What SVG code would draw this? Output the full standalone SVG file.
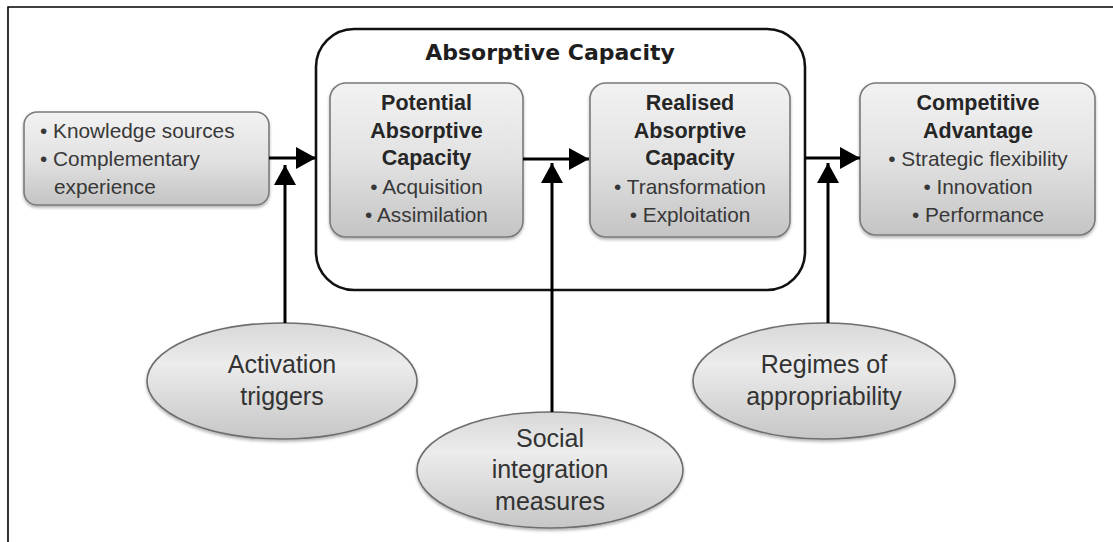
<svg xmlns="http://www.w3.org/2000/svg" width="1113" height="542" viewBox="0 0 1113 542">
  <defs>
    <linearGradient id="boxFill" x1="0" y1="0" x2="0" y2="1">
      <stop offset="0" stop-color="#f2f2f2"/>
      <stop offset="0.5" stop-color="#e2e2e2"/>
      <stop offset="1" stop-color="#c4c4c4"/>
    </linearGradient>
    <linearGradient id="ovalFill" x1="0" y1="0" x2="0" y2="1">
      <stop offset="0" stop-color="#d8d8d8"/>
      <stop offset="0.35" stop-color="#ececec"/>
      <stop offset="1" stop-color="#c6c6c6"/>
    </linearGradient>
    <filter id="shadow" x="-10%" y="-10%" width="120%" height="130%">
      <feDropShadow dx="0" dy="2" stdDeviation="1.5" flood-color="#000" flood-opacity="0.3"/>
    </filter>
    <marker id="head" markerUnits="userSpaceOnUse" markerWidth="22" markerHeight="22" refX="20" refY="11" orient="auto">
      <path d="M0,0 L20,11 L0,22 Z" fill="#000"/>
    </marker>
  </defs>
  <style>
    .frame { fill: none; stroke: #000; stroke-width: 1.6; }
    .box { fill: url(#boxFill); stroke: #7a7a7a; stroke-width: 1.6; filter: url(#shadow); }
    .oval { fill: url(#ovalFill); stroke: #6e6e6e; stroke-width: 1.6; filter: url(#shadow); }
    .group { fill: none; stroke: #111; stroke-width: 2.6; }
    .link { stroke: #000; stroke-width: 3; fill: none; marker-end: url(#head); }
    .title { font-family: "DejaVu Sans", sans-serif; font-weight: bold; font-size: 22px; fill: #1e1e1e; }
    .hd { font-family: "Liberation Sans", Arial, sans-serif; font-weight: bold; font-size: 21.5px; fill: #262626; text-anchor: middle; }
    .tx { font-family: "Liberation Sans", Arial, sans-serif; font-size: 20.8px; fill: #383838; }
    .mid { text-anchor: middle; }
    .ov { font-family: "Liberation Sans", Arial, sans-serif; font-size: 25px; fill: #333; text-anchor: middle; }
  </style>

  <!-- outer frame (top and left rules) -->
  <path class="frame" d="M8,542 V7 H1113"/>

  <!-- absorptive capacity grouping -->
  <g id="absorptive-capacity">
    <rect class="group" x="316" y="29" width="489" height="261" rx="38" ry="38"/>
    <text class="title" x="550" y="60" text-anchor="middle">Absorptive Capacity</text>
  </g>

  <g id="knowledge">
    <rect class="box" x="24" y="112" width="245" height="93" rx="13" ry="13"/>
    <text class="tx" x="40" y="138">• Knowledge sources</text>
    <text class="tx" x="40" y="166">• Complementary</text>
    <text class="tx" x="54" y="194">experience</text>
  </g>

  <g id="potential">
    <rect class="box" x="330" y="83" width="193" height="154" rx="16" ry="16"/>
    <text class="hd" x="426.5" y="110">Potential</text>
    <text class="hd" x="426.5" y="138">Absorptive</text>
    <text class="hd" x="426.5" y="165">Capacity</text>
    <text class="tx mid" x="426.5" y="194">• Acquisition</text>
    <text class="tx mid" x="426.5" y="222">• Assimilation</text>
  </g>

  <g id="realised">
    <rect class="box" x="590" y="83" width="200" height="154" rx="16" ry="16"/>
    <text class="hd" x="690" y="110">Realised</text>
    <text class="hd" x="690" y="138">Absorptive</text>
    <text class="hd" x="690" y="165">Capacity</text>
    <text class="tx mid" x="690" y="194">• Transformation</text>
    <text class="tx mid" x="690" y="222">• Exploitation</text>
  </g>

  <g id="competitive">
    <rect class="box" x="860" y="83" width="235" height="152" rx="16" ry="16"/>
    <text class="hd" x="978" y="110">Competitive</text>
    <text class="hd" x="978" y="138">Advantage</text>
    <text class="tx mid" x="978" y="166">• Strategic flexibility</text>
    <text class="tx mid" x="978" y="194">• Innovation</text>
    <text class="tx mid" x="978" y="222">• Performance</text>
  </g>

  <g id="activation">
    <ellipse class="oval" cx="282" cy="381" rx="135" ry="58"/>
    <text class="ov" x="282" y="373">Activation</text>
    <text class="ov" x="282" y="405">triggers</text>
  </g>

  <g id="social">
    <ellipse class="oval" cx="550" cy="470" rx="133" ry="58"/>
    <text class="ov" x="550" y="447">Social</text>
    <text class="ov" x="550" y="478">integration</text>
    <text class="ov" x="550" y="510">measures</text>
  </g>

  <g id="regimes">
    <ellipse class="oval" cx="824" cy="381" rx="131" ry="58"/>
    <text class="ov" x="824" y="373">Regimes of</text>
    <text class="ov" x="824" y="405">appropriability</text>
  </g>

  <g id="connectors">
    <line class="link" x1="269" y1="158" x2="316" y2="158"/>
    <line class="link" x1="523" y1="159" x2="589" y2="159"/>
    <line class="link" x1="805" y1="158" x2="860" y2="158"/>
    <line class="link" x1="285" y1="323" x2="285" y2="165"/>
    <line class="link" x1="552" y1="412" x2="552" y2="163"/>
    <line class="link" x1="828" y1="323" x2="828" y2="163"/>
  </g>
</svg>
